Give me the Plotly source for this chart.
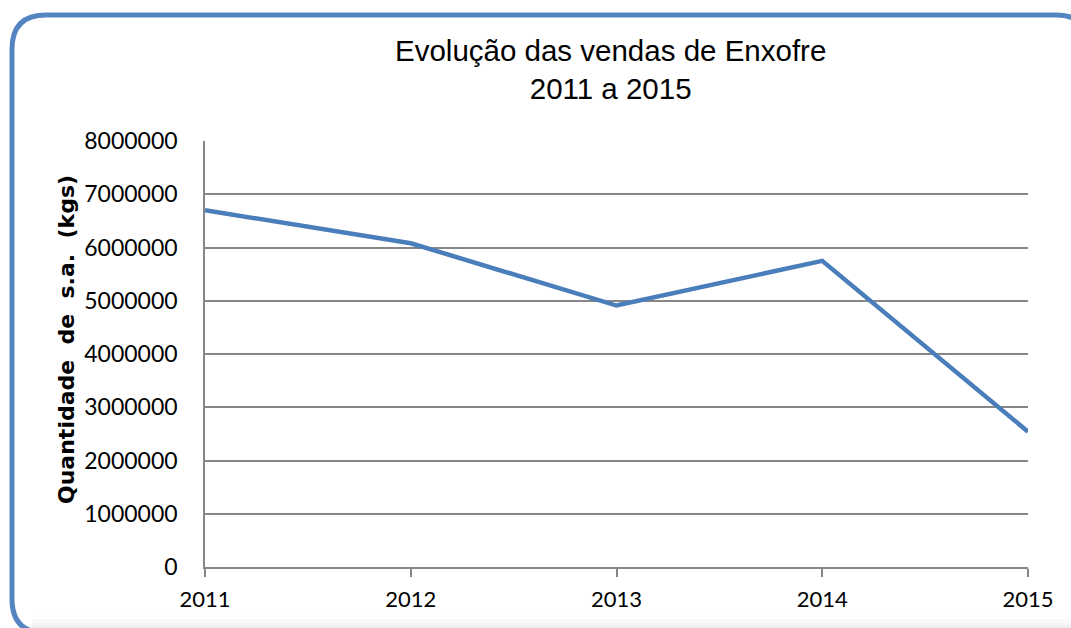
import plotly.graph_objects as go

years = [2011, 2012, 2013, 2014, 2015]
vendas = [6700000, 6080000, 4910000, 5750000, 2540000]
y_ticks = [0, 1000000, 2000000, 3000000, 4000000, 5000000, 6000000, 7000000, 8000000]

W, H = 1071, 628
L, R, T, B = 205, 43, 141, 61
pw, ph = W - L - R, H - T - B

def px(X):
    return (X - L) / pw

def py(Y):
    return (H - B - Y) / ph

# rounded border path in paper coords
x0, x1, y0, y1, r = 12, 1090, 15, 633, 34
path = (f"M {px(x0+r)},{py(y0)} L {px(x1-r)},{py(y0)} Q {px(x1)},{py(y0)} {px(x1)},{py(y0+r)} "
        f"L {px(x1)},{py(y1-r)} Q {px(x1)},{py(y1)} {px(x1-r)},{py(y1)} "
        f"L {px(x0+r)},{py(y1)} Q {px(x0)},{py(y1)} {px(x0)},{py(y1-r)} "
        f"L {px(x0)},{py(y0+r)} Q {px(x0)},{py(y0)} {px(x0+r)},{py(y0)} Z")

shapes = []
# soft bottom shadow bands
for (ya, yb, col) in [(614, 619, "#fdfdfd"), (619, 623, "#f9f9f9"), (623, 626, "#f4f4f4"), (626, 631, "#efefef")]:
    shapes.append(dict(type="rect", xref="paper", yref="paper",
                       x0=px(x0 + 20), x1=px(W + 5), y0=py(yb), y1=py(ya),
                       fillcolor=col, line=dict(width=0), layer="below"))
shapes.append(dict(type="path", path=path, xref="paper", yref="paper",
                   line=dict(color="#5585C0", width=5), layer="above"))

fig = go.Figure()
fig.add_trace(go.Scatter(x=years, y=vendas, mode="lines",
                         line=dict(color="#4A7EBB", width=4.5), showlegend=False,
                         cliponaxis=False))

fig.update_layout(
    width=W, height=H,
    margin=dict(l=L, r=R, t=T, b=B),
    paper_bgcolor="white", plot_bgcolor="rgba(0,0,0,0)",
    font=dict(family="Lato, sans-serif", color="black"),
    annotations=[
        dict(text="Evolução das vendas de Enxofre<br>2011 a 2015",
             x=px(610), y=py(70), xref="paper", yref="paper",
             showarrow=False, xanchor="center", yanchor="middle",
             font=dict(family="Liberation Sans, sans-serif", size=29.5, color="black")),
        dict(text="<b>Quantidade\u00a0 de\u00a0 s.a.\u00a0 (kgs)</b>", textangle=-90,
             x=px(66), y=py(340), xref="paper", yref="paper",
             showarrow=False, xanchor="center", yanchor="middle",
             font=dict(family="DejaVu Sans, sans-serif", size=22, color="black")),
    ],
    shapes=shapes,
    xaxis=dict(range=[2011, 2015], tickvals=years, ticktext=[str(y) for y in years],
               showgrid=False, zeroline=False, showline=True, linecolor="#868686", linewidth=1.5,
               ticks="outside", ticklen=8, tickcolor="#868686", tickwidth=1.5,
               ticklabelstandoff=4,
               tickfont=dict(size=22, family="Lato, sans-serif"), fixedrange=True),
    yaxis=dict(range=[0, 8000000], tickvals=y_ticks, ticktext=[str(v) for v in y_ticks],
               showgrid=True, gridcolor="#868686", gridwidth=1.5, zeroline=False,
               showline=True, linecolor="#868686", linewidth=1.5, ticks="",
               ticklabelstandoff=21,
               tickfont=dict(size=23, family="Lato, sans-serif"),
               fixedrange=True),
)

fig.write_html("out.html")
